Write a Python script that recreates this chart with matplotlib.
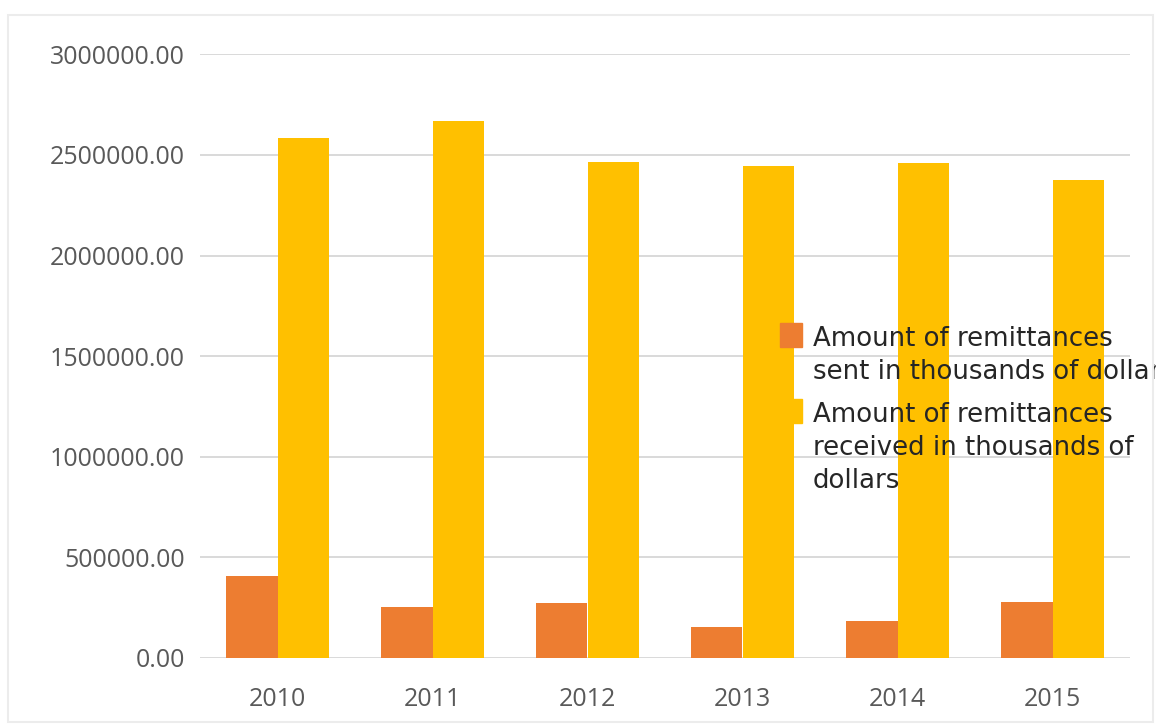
import numpy as np
import matplotlib.pyplot as plt
from matplotlib.patches import Rectangle
from matplotlib.ticker import MultipleLocator, FormatStrFormatter
from matplotlib.transforms import IdentityTransform

# remittances per year, in thousands of dollars
years = ['2010', '2011', '2012', '2013', '2014', '2015']
sent = [406000, 252000, 273000, 154000, 181000, 275000]
received = [2586000, 2670000, 2465000, 2447000, 2461000, 2375000]

label_sent = 'Amount of remittances\nsent in thousands of dollars'
label_received = 'Amount of remittances\nreceived in thousands of\ndollars'

c_sent = '#ED7D31'
c_received = '#FFC000'

W, H = 1163, 724
fig = plt.figure(figsize=(W / 100, H / 100), dpi=100)
ax = fig.add_axes([200 / W, 1 - 657.7 / H, 930 / W, 603.3 / H])

x = np.arange(len(years))
bw = 0.33
ax.bar(x - bw / 2, sent, bw, color=c_sent)
ax.bar(x + bw / 2, received, bw, color=c_received)

ax.set_xlim(-0.5, len(years) - 0.5)
ax.set_ylim(0, 3000000)
ax.yaxis.set_major_locator(MultipleLocator(500000))
ax.yaxis.set_major_formatter(FormatStrFormatter('%.2f'))
ax.set_xticks(x)
ax.set_xticklabels(years)

ax.set_axisbelow(True)
ax.grid(axis='y', color='#d9d9d9', linewidth=1.4)
for s in ax.spines.values():
    s.set_visible(False)
ax.tick_params(length=0, labelsize=18, labelcolor='#595959')
ax.tick_params(axis='y', pad=11)
ax.tick_params(axis='x', pad=21)
for t in ax.get_xticklabels() + ax.get_yticklabels():
    t.set_family('Open Sans')

# legend drawn by hand in pixel coords (y measured from the top)
px = IdentityTransform()
def pix_rect(x0, y0, x1, y1, **kw):
    fig.patches.append(Rectangle((x0, H - y1), x1 - x0, y1 - y0, transform=px, **kw))

pix_rect(780, 323, 802, 347, color=c_sent)
pix_rect(780, 399, 802, 423, color=c_received)
fig.text(813, H - 326, label_sent, transform=px, fontsize=18.7, color='#262626',
         va='top', linespacing=1.36, family='DejaVu Sans')
fig.text(813, H - 402, label_received, transform=px, fontsize=18.7, color='#262626',
         va='top', linespacing=1.36, family='DejaVu Sans')

# chart frame; legend runs off the right side
pix_rect(1156, 0, W, H, color='white', zorder=5)
pix_rect(8, 15, 1153, 722, fill=False, edgecolor='#ececec', linewidth=1.5, zorder=6)

fig.savefig('out.png', dpi=100)
